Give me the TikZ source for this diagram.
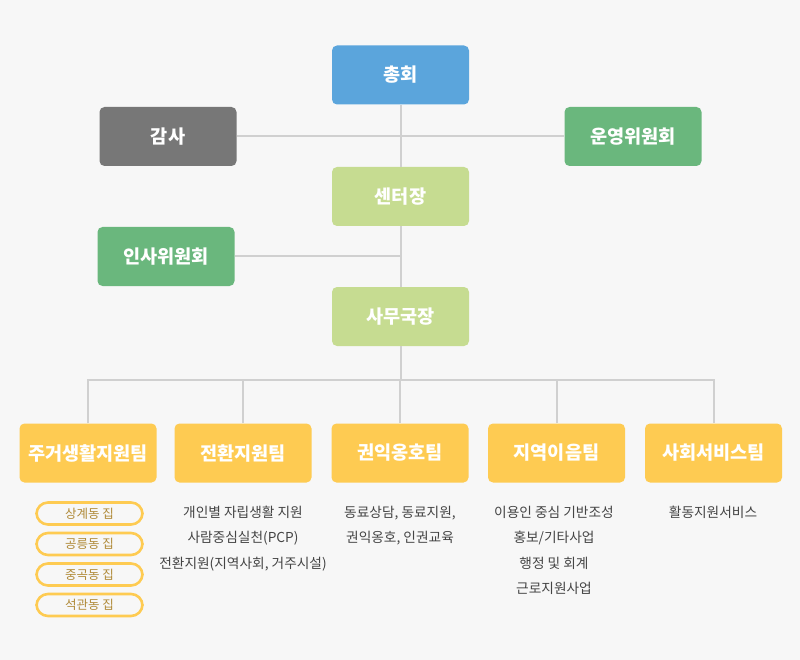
\documentclass[tikz,border=0pt]{standalone}
\usepackage{fontspec}
\newfontfamily\kr{Noto Sans CJK KR}
\definecolor{bgc}{HTML}{F7F7F7}
\definecolor{lnc}{HTML}{D0D0D0}
\definecolor{cblue}{HTML}{5BA5DC}
\definecolor{cgray}{HTML}{777777}
\definecolor{cgreen}{HTML}{6AB77D}
\definecolor{clime}{HTML}{C6DC91}
\definecolor{cyel}{HTML}{FECB52}
\definecolor{ctxt}{HTML}{444444}
\definecolor{cpill}{HTML}{B08A38}
\tikzset{
  box/.style={rounded corners=5pt, minimum width=137pt, minimum height=59pt, inner sep=0pt,
    text=white, font=\kr\bfseries\fontsize{18.6}{20}\selectfont},
  conn/.style={draw=lnc, line width=2pt},
  pill/.style={draw=cyel, line width=2.6pt, fill=bgc, rounded corners=11.5pt,
    minimum width=106pt, minimum height=22pt, inner sep=0pt, text=cpill,
    font=\kr\fontsize{12.5}{13}\selectfont},
  listtext/.style={align=center, text=ctxt, inner sep=0pt, anchor=north,
    font=\kr\fontsize{13.7}{25.3}\selectfont}
}
\begin{document}
\begin{tikzpicture}[x=1pt,y=-1pt]
\fill[bgc] (0,0) rectangle (800,660);
\useasboundingbox (0,0) rectangle (800,660);
% nodes
\node[box, fill=cblue] (chonghoe) at (400.5,75) {총회};
\node[box, fill=cgray] (gamsa) at (168,136.5) {감사};
\node[box, fill=cgreen] (unyeong) at (633,136.5) {운영위원회};
\node[box, fill=clime] (center) at (400.5,196.5) {센터장};
\node[box, fill=cgreen] (insa) at (166,256.5) {인사위원회};
\node[box, fill=clime] (samu) at (400.5,316.5) {사무국장};
\coordinate (bus) at (400.5,380);
\node[box, fill=cyel] (t1) at (88,453) {주거생활지원팀};
\node[box, fill=cyel] (t2) at (243,453) {전환지원팀};
\node[box, fill=cyel] (t3) at (400,453) {권익옹호팀};
\node[box, fill=cyel] (t4) at (556.5,453) {지역이음팀};
\node[box, fill=cyel] (t5) at (713.5,453) {사회서비스팀};
% connectors
\draw[conn] (chonghoe.south) -- (center.north);
\draw[conn] (gamsa.east) -- (unyeong.west);
\draw[conn] (center.south) -- (samu.north);
\draw[conn] (insa.east) -- (insa.east -| center.south);
\draw[conn] (samu.south) -- (bus);
\draw[conn] (t1.north) -- (t1.north |- bus) -- (t5.north |- bus) -- (t5.north);
\draw[conn] (t2.north) -- (t2.north |- bus);
\draw[conn] (t3.north) -- (t3.north |- bus);
\draw[conn] (t4.north) -- (t4.north |- bus);
% pills
\node[pill] (p1) at (89.5,513.5) {상계동 집};
\node[pill] (p2) at (89.5,544) {공릉동 집};
\node[pill] (p3) at (89.5,574.5) {중곡동 집};
\node[pill] (p4) at (89.5,605) {석관동 집};
% lists
\node[listtext] (l2) at (243,506) {개인별 자립생활 지원\\사람중심실천(PCP)\\전환지원(지역사회, 거주시설)};
\node[listtext] (l3) at (400,506) {동료상담, 동료지원,\\권익옹호, 인권교육};
\node[listtext] (l4) at (554,506) {이용인 중심 기반조성\\홍보/기타사업\\행정 및 회계\\근로지원사업};
\node[listtext] (l5) at (713,506) {활동지원서비스};
\end{tikzpicture}
\end{document}
